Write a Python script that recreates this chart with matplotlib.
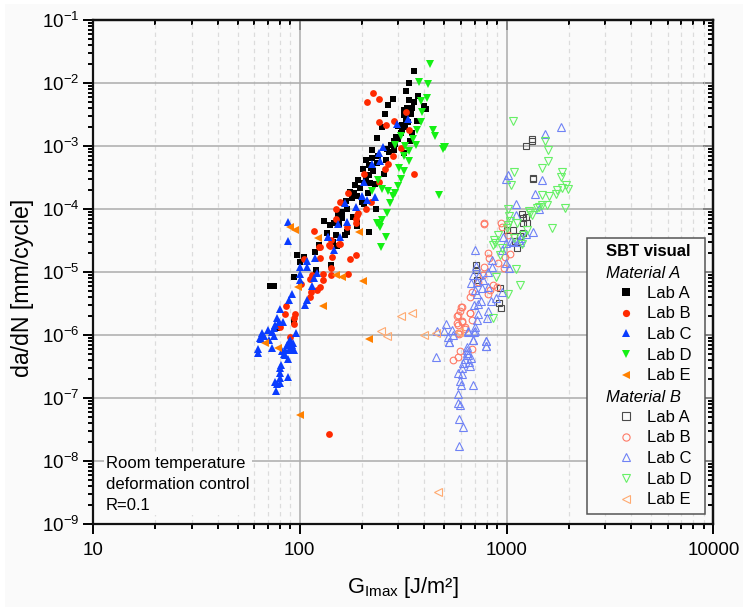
import math
import matplotlib
matplotlib.use("Agg")
import matplotlib.pyplot as plt
from matplotlib.lines import Line2D
from matplotlib.patches import Rectangle
from matplotlib.ticker import LogLocator, FixedLocator, FuncFormatter, NullFormatter

plt.rcParams['font.family'] = ['Liberation Sans', 'DejaVu Sans']
plt.rcParams['mathtext.fontset'] = 'custom'
plt.rcParams['mathtext.rm'] = 'Liberation Sans'
plt.rcParams['mathtext.default'] = 'regular'

# Material A
a_lab_a_x = [355,336,328,281,267,372,337,356,398,406,318,330,350,318,258,250,367,313,324,313,350,292,237,285,277,343,285,224,318,224,210,260,202,220,216,255,191,218,232,195,182,214,168,199,164,160,153,234,131,140,146,216,170,189,149,124,97,105,100,118,124,142,120,94,72,75,72,93.6,78,340,345,328,325,335,300,310,300,290,265,270,240,235,215,225,210,205,185,175,190,178,205,170,180,160,155,190,135,165,145,152]
a_lab_a_y = [1.57e-2,1e-2,7.6e-3,5.6e-3,4.6e-3,6.2e-3,5.4e-3,5.1e-3,4.3e-3,3.9e-3,3.8e-3,4e-3,4e-3,3.1e-3,3.3e-3,2e-3,2.5e-3,2.2e-3,2.05e-3,1.8e-3,1.65e-3,1.42e-3,1.34e-3,1.23e-3,1.05e-3,1.2e-3,8.7e-4,8.7e-4,7.9e-4,6.5e-4,6e-4,6e-4,4.4e-4,4.5e-4,3.5e-4,3.6e-4,2.9e-4,2.6e-4,2.5e-4,2.15e-4,1.8e-4,1.8e-4,1.37e-4,1.32e-4,1.25e-4,9.2e-5,8.1e-5,1e-4,6.6e-5,5.6e-5,6e-5,4.3e-5,4.4e-5,6e-5,3.9e-5,2.7e-5,1.9e-5,1.77e-5,1.44e-5,2.08e-5,2.7e-5,1.3e-5,1.1e-5,8.3e-6,6e-6,6e-6,6e-6,1.6e-6,1.3e-6,3.6e-3,3.2e-3,3e-3,2.7e-3,2.4e-3,2.1e-3,1.6e-3,1.3e-3,1.1e-3,9e-4,8e-4,7e-4,5.5e-4,5e-4,4e-4,3.3e-4,2.6e-4,2.4e-4,1.9e-4,1.6e-4,1.5e-4,1.2e-4,1e-4,7.5e-5,7.3e-5,5.8e-5,5.4e-5,4.2e-5,3.9e-5,3e-5,2.6e-5]
a_lab_b_x = [225,211,241,328,242,261,285,337,309,281,267,257,355,205,242,171,156,149,208,220,149,187,188,189,191,117,170,125,140,156,141,124,139,155,186,175,142,143,125,105,171,142,130,129,112,115,125,121,113,112,101,86,85,95,94,94,80.5,90,139]
a_lab_b_y = [7.1e-3,5.1e-3,5.7e-3,3.5e-3,2.4e-3,2.15e-3,2.5e-3,1.8e-3,9.5e-4,6.9e-4,5.2e-4,4.4e-4,3.7e-4,3.6e-4,2.75e-4,1.8e-4,1.3e-4,1e-4,1e-4,1.3e-4,6.9e-5,6e-5,7e-5,8e-5,8.7e-5,4.5e-5,5.3e-5,2.5e-5,2.65e-5,2.8e-5,3.3e-5,2.5e-5,2.7e-5,2.8e-5,1.9e-5,1.6e-5,1.16e-5,1.77e-5,1.7e-5,1.6e-5,9.4e-6,9.1e-6,9.4e-6,7.6e-6,7.8e-6,9.1e-6,5.8e-6,5.2e-6,4.8e-6,4.1e-6,6.5e-6,2.9e-6,2.2e-6,2.2e-6,1.9e-6,1.5e-6,1.36e-6,9.5e-7,2.7e-8]
a_lab_c_x = [294,333,252,241,245,224,204,199,212,231,165,187,153,170,157,137,147,88,88,136.5,118,108,100,108,100,100,121,117,115,108,106,92,88.5,80.5,78,79,76,75,73.5,75,66,67,65,62.6,63,73.5,96,88.5,87,92,94,85,84,88.5,85,87.5,81.5,80.5,80,87.5,80,76,80,78,77,64,70,71,90,91,93,82,83]
a_lab_c_y = [2.3e-3,2.7e-3,9.9e-4,7.9e-4,5.8e-4,5.2e-4,2.75e-4,1.6e-4,1.38e-4,1.57e-4,1.25e-4,1.1e-4,5.8e-5,6.2e-5,3.7e-5,3.7e-5,2.3e-5,6.2e-5,3.1e-5,3.7e-5,1.7e-5,1.5e-5,1.2e-5,1.2e-5,9.4e-6,7.6e-6,9.6e-6,8e-6,6e-6,3.7e-6,3e-6,4.6e-6,3.7e-6,2.6e-6,1.86e-6,1.65e-6,1.45e-6,1.3e-6,1.12e-6,9.8e-7,1.07e-6,9.8e-7,8.7e-7,6.1e-7,5.3e-7,6.2e-7,1.1e-6,7.9e-7,7e-7,7e-7,5.9e-7,5.9e-7,5e-7,5.9e-7,4.8e-7,4.2e-7,3.4e-7,3e-7,2.5e-7,2.15e-7,2.1e-7,1.84e-7,1.73e-7,1.7e-7,1.3e-7,9e-7,1.2e-6,8.3e-7,8.5e-7,6.4e-7,7.6e-7,5.6e-7,1.6e-6]
a_lab_d_x = [426,375,416,410,384,391,386,370,440,449,307,352,363,288,324,337,497,492,503,318,336,302,318,309,240,298,224,249,267,288,282,272,471,263,250,235,241,245,260,248]
a_lab_d_y = [2e-2,1.06e-2,9.8e-3,5.9e-3,5.3e-3,3.55e-3,2.4e-3,1.8e-3,1.8e-3,1.46e-3,1.46e-3,1.3e-3,1.05e-3,1.05e-3,1e-3,8.5e-4,9.9e-4,9e-4,9.6e-4,7e-4,5.9e-4,4.6e-4,4e-4,3e-4,2.9e-4,2.35e-4,1.95e-4,2.1e-4,1.95e-4,1.84e-4,1.6e-4,1.28e-4,1.7e-4,8.7e-5,6.8e-5,6e-5,5.6e-5,5.2e-5,3.7e-5,2.5e-5]
a_lab_e_x = [89.5,95,122,193,149,160,202,98,129,216,68,78.5,100]
a_lab_e_y = [5.2e-5,4.7e-5,3.5e-5,4.3e-5,8.9e-6,8.5e-6,7.3e-6,5.8e-6,2.9e-6,8.7e-7,7.6e-7,6.2e-7,5.4e-8]

# Material B
b_lab_a_x = [1331,1325,1240,1346,1346,1183,1240,1205,1259,1195,1069,1007,1161,1195,1097,1118,708,710,929,922,935,716]
b_lab_a_y = [1.29e-3,1.23e-3,1.02e-3,3e-4,3.1e-4,8.3e-5,7.5e-5,7.2e-5,6.1e-5,6.1e-5,4.7e-5,4.7e-5,3.8e-5,4.2e-5,3.1e-5,2.4e-5,1.3e-5,1.09e-5,5.6e-6,3.2e-6,2.75e-6,7.6e-6]
b_lab_b_x = [777,780,935,946,1018,1038,982,815,822,904,780,970,765,729,861,901,831,815,677,665,606,595,577,669,606,677,573,630,590,601,583,665,606,583,630,583,595,682,583,548]
b_lab_b_y = [6.1e-5,5.8e-5,6.1e-5,5.2e-5,3.9e-5,1.95e-5,1.77e-5,2e-5,1.66e-5,1.42e-5,1.23e-5,1.16e-5,8.9e-6,7.1e-6,6.3e-6,5.9e-6,5.2e-6,4.6e-6,4.9e-6,4.1e-6,2.85e-6,2.4e-6,2.05e-6,2.3e-6,1.7e-6,1.75e-6,1.55e-6,1.25e-6,1.05e-6,2.8e-6,2.1e-6,2.3e-6,1.65e-6,1.46e-6,1.37e-6,1.1e-6,5.7e-7,6e-7,4.5e-7,4e-7]
b_lab_c_x = [1840,1532,1011,993,1482,1366,1110,1439,1110,1336,964,993,1077,1173,1161,705,946,849,849,993,1030,708,815,690,771,670,815,703,757,946,716,887,751,837,698,729,815,729,806,721,507,462,497,542,548,522,528,703,703,652,690,794,791,640,455,528,652,695,690,794,794,640,652,630,665,617,606,583,606,595,599,687,583,579,597,588,617,588,640,660,675,720,735,1240,1050,1150]
b_lab_c_y = [2.05e-3,1.57e-3,3.5e-4,3e-4,2.9e-4,1.75e-4,1.2e-4,1e-4,8e-5,4.3e-5,3.7e-5,2.9e-5,3e-5,3.5e-5,3e-5,2.26e-5,2.26e-5,1.57e-5,1.23e-5,1.39e-5,1.19e-5,1.26e-5,1e-5,8.9e-6,7.6e-6,6.7e-6,5.9e-6,5.2e-6,5.6e-6,4.8e-6,4.5e-6,3.9e-6,3.55e-6,3.55e-6,3e-6,3.16e-6,2.4e-6,2.2e-6,1.9e-6,1.75e-6,1.5e-6,1.15e-6,1.19e-6,1.2e-6,1e-6,9.5e-7,7.9e-7,1.37e-6,1.15e-6,1.15e-6,8.5e-7,8.1e-7,6.8e-7,6.5e-7,4.6e-7,7.9e-7,1.14e-6,1.14e-6,8.4e-7,8.2e-7,6.8e-7,5.9e-7,4.9e-7,4.2e-7,3.3e-7,3.6e-7,3e-7,2.5e-7,2.45e-7,1.9e-7,1.63e-7,1.65e-7,1.19e-7,8.3e-8,7.7e-8,4.65e-8,3.55e-8,1.77e-8,5.2e-7,3.8e-7,4.3e-7,7e-6,9e-6,4e-5,3.1e-5,3.3e-5]
b_lab_d_x = [1069,1532,1592,1592,1482,1853,1824,1085,1054,1936,1987,1845,1758,1726,1603,1476,1562,1476,1397,1909,1282,1331,1015,1023,1652,1249,1127,1018,911,868,861,1205,1183,929,1106,887,1161,1011,861,1000,1040,950,880,1090,1300,1440]
b_lab_d_y = [2.55e-3,1.23e-3,8.7e-4,5.9e-4,4.6e-4,3.9e-4,3.2e-4,3.9e-4,2.4e-4,2.43e-4,2.07e-4,2.2e-4,2e-4,1.75e-4,1.6e-4,1.7e-4,1.17e-4,1.15e-4,1.04e-4,1.05e-4,9.5e-5,8.1e-5,1e-4,7.8e-5,5e-5,4.7e-5,6.1e-5,5.6e-5,3.9e-5,3.3e-5,2.7e-5,3.9e-5,2.8e-5,1.9e-5,1.12e-5,8.3e-6,6.2e-6,4.5e-6,1.9e-6,5e-5,6.5e-5,2.4e-5,2.9e-5,3.5e-5,8.8e-5,1.1e-4]
b_lab_e_x = [310,347,248,265,400,458,589,467]
b_lab_e_y = [2e-6,2.3e-6,1.19e-6,9.8e-7,1e-6,1.1e-6,1.14e-6,3.3e-9]

series_labels = ['Lab A', 'Lab B', 'Lab C', 'Lab D', 'Lab E']
series_markers = ['s', 'o', '^', 'v', '<']
sizes_a = [4.1, 4.9, 5.9, 5.9, 5.9]
sizes_b = [4.0, 4.8, 5.4, 5.4, 5.4]
colors_a = ['#000000', '#ff2a00', '#0a3cff', '#14f014', '#ff8000']
colors_b = ['#4a4a4a', '#ff7a66', '#6f82f5', '#66f066', '#ffaa70']
header_title = 'SBT visual'
header_a = 'Material A'
header_b = 'Material B'
note = 'Room temperature\ndeformation control\nR=0.1'
x_limits = (10, 10000)
y_limits = (1e-9, 1e-1)
y_major = [1e-9, 1e-8, 1e-7, 1e-6, 1e-5, 1e-4, 1e-3, 1e-2, 1e-1]

W, H = 743, 607
BG = '#fafafa'
AL, AB, AW, AH = 93, 524.3, 620.4, 504
fig = plt.figure(figsize=(W / 100, H / 100), dpi=100, facecolor='white')
fig.add_artist(Rectangle((5 / W, 0), 1 - 5 / W, 1 - 4 / H, transform=fig.transFigure, facecolor=BG, edgecolor='none', zorder=-10))
ax = fig.add_axes([AL / W, 1 - AB / H, AW / W, AH / H], facecolor=BG)
ax.set_xscale('log')
ax.set_yscale('log')
ax.set_xlim(*x_limits)
ax.set_ylim(*y_limits)

ax.xaxis.set_major_locator(LogLocator(base=10, numticks=6))
ax.xaxis.set_minor_locator(LogLocator(base=10, subs=range(2, 10), numticks=6))
ax.yaxis.set_major_locator(FixedLocator(y_major))
ax.yaxis.set_minor_locator(LogLocator(base=10, subs=range(2, 10), numticks=14))
ax.xaxis.set_major_formatter(FuncFormatter(lambda v, p: f'{v:.0f}'))
ax.xaxis.set_minor_formatter(NullFormatter())
ax.yaxis.set_major_formatter(FuncFormatter(lambda v, p: '10$^{%d}$' % round(math.log10(v))))
ax.yaxis.set_minor_formatter(NullFormatter())

ax.grid(True, which='major', color='#ababab', lw=1.1, zorder=0)
ax.grid(True, which='minor', axis='x', color='#dcdcdc', lw=0.9, ls=(0, (3.5, 3)), zorder=0)
ax.set_axisbelow(True)

for s in ax.spines.values():
    s.set_linewidth(1.6)
    s.set_color('#111111')
ax.tick_params(axis='x', which='major', direction='out', length=7, width=1.4, labelsize=13.5, pad=6)
ax.tick_params(axis='x', which='minor', direction='out', length=3.6, width=1.4)
ax.tick_params(axis='y', which='major', direction='out', length=7, width=1.4, labelsize=13.5, pad=3)
ax.tick_params(axis='y', which='minor', direction='out', length=3.6, width=1.4)
ax2 = ax.secondary_xaxis('top')
ax2.set_xscale('log')
ax2.xaxis.set_major_locator(LogLocator(base=10, numticks=6))
ax2.xaxis.set_minor_locator(LogLocator(base=10, subs=range(2, 10), numticks=6))
ax2.tick_params(which='major', direction='in', length=7, width=1.4, labeltop=False)
ax2.tick_params(which='minor', direction='in', length=3.6, width=1.4, labeltop=False)
ax2.spines['top'].set_linewidth(1.6)
ay2 = ax.secondary_yaxis('right')
ay2.set_yscale('log')
ay2.yaxis.set_major_locator(FixedLocator(y_major))
ay2.yaxis.set_minor_locator(LogLocator(base=10, subs=range(2, 10), numticks=14))
ay2.tick_params(which='major', direction='in', length=7, width=1.4, labelright=False)
ay2.tick_params(which='minor', direction='in', length=3.6, width=1.4, labelright=False)
ay2.spines['right'].set_linewidth(1.6)

ax.set_xlabel('G$_{Imax}$ [J/m²]', fontsize=15.7)
ax.xaxis.set_label_coords(0.5, -(587 - AB) / AH)
ax.set_ylabel('da/dN [mm/cycle]', fontsize=16.7)
ax.yaxis.set_label_coords((23 - AL) / AW, (AB - 288) / AH)
ax.yaxis.label.set_verticalalignment('center')
ax.xaxis.label.set_verticalalignment('center')

data_a = [(a_lab_a_x, a_lab_a_y), (a_lab_b_x, a_lab_b_y), (a_lab_c_x, a_lab_c_y), (a_lab_d_x, a_lab_d_y), (a_lab_e_x, a_lab_e_y)]
data_b = [(b_lab_a_x, b_lab_a_y), (b_lab_b_x, b_lab_b_y), (b_lab_c_x, b_lab_c_y), (b_lab_d_x, b_lab_d_y), (b_lab_e_x, b_lab_e_y)]

for (x, y), m, ms, c in zip(data_b, series_markers, sizes_b, colors_b):
    ax.plot(x, y, ls='none', marker=m, ms=ms, mfc='none', mec=c, mew=0.8, zorder=3)
for (x, y), m, ms, c in zip(data_a, series_markers, sizes_a, colors_a):
    ax.plot(x, y, ls='none', marker=m, ms=ms, color=c, mec=c, mew=0, zorder=4)

blank = Line2D([], [], ls='none')
spacer = ' ' * 11
handles = [blank, blank]
labels = [spacer, spacer]
for m, c, lab in zip(series_markers, colors_a, series_labels):
    handles.append(Line2D([], [], ls='none', marker=m, ms=5.2, color=c, mew=0))
    labels.append(lab)
handles.append(blank)
labels.append(spacer)
for m, c, lab in zip(series_markers, colors_b, series_labels):
    handles.append(Line2D([], [], ls='none', marker=m, ms=5.2, mfc='none', mec=c, mew=0.8))
    labels.append(lab)

leg = ax.legend(handles, labels, loc='lower right', bbox_to_anchor=((705 - AL) / AW, (AB - 514) / AH),
                borderaxespad=0, fontsize=12, fancybox=False, framealpha=1, facecolor=BG, edgecolor='#555555',
                labelspacing=0.34, handlelength=3.78, handletextpad=-0.58, borderpad=0.4)
leg.get_frame().set_linewidth(1.1)
leg.set_zorder(6)

def px(xp, yp):
    return (xp - AL) / AW, (AB - yp) / AH

ax.text(*px(606, 252), header_title, transform=ax.transAxes, fontsize=12, fontweight='bold', va='center', ha='left', zorder=7)
ax.text(*px(606, 273), header_a, transform=ax.transAxes, fontsize=12, fontstyle='italic', va='center', ha='left', zorder=7)
ax.text(*px(606, 397), header_b, transform=ax.transAxes, fontsize=12, fontstyle='italic', va='center', ha='left', zorder=7)

ax.text(*px(106, 513), note, transform=ax.transAxes, fontsize=12, va='bottom', ha='left', linespacing=1.48,
        bbox=dict(facecolor=BG, edgecolor='none', pad=1.5), zorder=5)

fig.savefig('out.png', dpi=100, facecolor='white')
